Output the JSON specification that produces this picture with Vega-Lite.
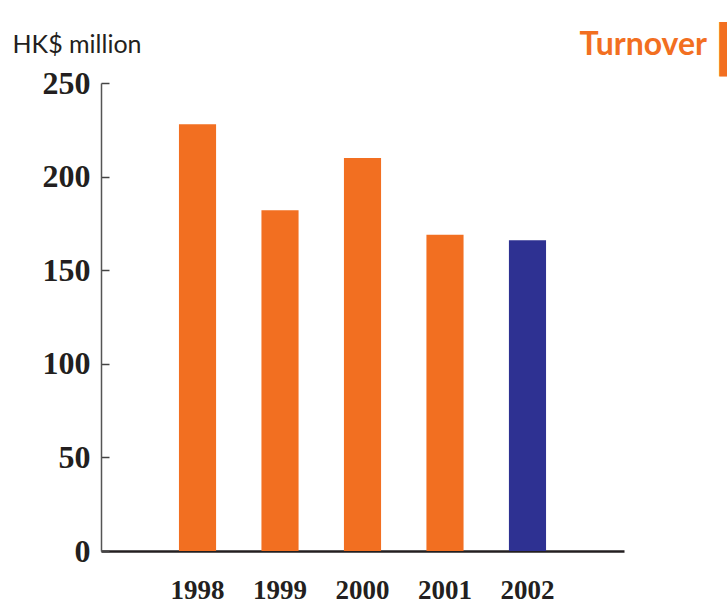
{
  "$schema": "https://vega.github.io/schema/vega-lite/v6.json",
  "autosize": {"type": "none"},
  "width": 523,
  "height": 468,
  "padding": {"left": 101, "top": 83, "right": 103, "bottom": 53},
  "background": "white",
  "title": {
    "text": "Turnover",
    "anchor": "end",
    "frame": "group",
    "dx": 83,
    "dy": 60,
    "offset": 25,
    "font": "Lato",
    "fontSize": 32,
    "fontWeight": "bold",
    "color": "#F26F21"
  },
  "data": {
    "values": [
      {"year": "1998", "turnover": 228, "group": "past"},
      {"year": "1999", "turnover": 182, "group": "past"},
      {"year": "2000", "turnover": 210, "group": "past"},
      {"year": "2001", "turnover": 169, "group": "past"},
      {"year": "2002", "turnover": 166, "group": "current"}
    ]
  },
  "mark": {"type": "bar"},
  "encoding": {
    "x": {
      "field": "year",
      "type": "ordinal",
      "scale": {"paddingInner": 0.55, "paddingOuter": 0.945},
      "axis": {
        "title": "▌",
        "titleFont": "DejaVu Sans",
        "titleFontSize": 46,
        "titleFontWeight": "normal",
        "titleColor": "#F26F21",
        "titleAlign": "left",
        "titleBaseline": "alphabetic",
        "titleAnchor": null,
        "titleX": 618,
        "titleY": -487,
        "labelAngle": 0,
        "ticks": false,
        "labelPadding": 26,
        "labelFont": "Liberation Serif",
        "labelFontSize": 27,
        "labelFontWeight": "bold",
        "labelColor": "#231F20",
        "domainColor": "#231F20",
        "domainWidth": 2.5
      }
    },
    "y": {
      "field": "turnover",
      "type": "quantitative",
      "scale": {"domain": [0, 250], "nice": false},
      "axis": {
        "title": "HK$ million",
        "titleAngle": 0,
        "titleAlign": "left",
        "titleBaseline": "alphabetic",
        "titleX": -89,
        "titleY": -31,
        "titleFont": "Lato",
        "titleFontSize": 25,
        "titleFontWeight": "normal",
        "titleColor": "#231F20",
        "values": [0, 50, 100, 150, 200, 250],
        "grid": false,
        "tickSize": -8,
        "tickColor": "#444444",
        "tickWidth": 1.5,
        "domainColor": "#555555",
        "domainWidth": 1.5,
        "labelPadding": 19,
        "labelFont": "Liberation Serif",
        "labelFontSize": 32,
        "labelFontWeight": "bold",
        "labelColor": "#231F20"
      }
    },
    "color": {
      "field": "group",
      "type": "nominal",
      "scale": {"domain": ["past", "current"], "range": ["#F26F21", "#2E3192"]},
      "legend": null
    }
  },
  "config": {"view": {"stroke": null}}
}
